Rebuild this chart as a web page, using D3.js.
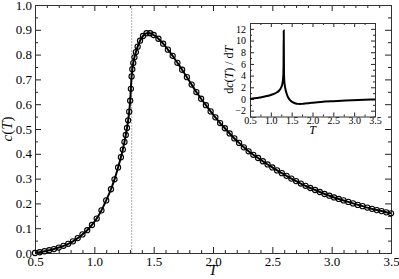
<!DOCTYPE html>
<html><head><meta charset="utf-8">
<script src="https://cdn.jsdelivr.net/npm/d3@7"></script>
<style>body{margin:0;background:#fff} svg text{font-family:"Liberation Serif","Times New Roman",serif;fill:#000}</style>
</head><body><svg id="c" width="399" height="279"></svg>
<script>
// main curve: temperature and specific heat c(T)
const temps = [0.50,0.54,0.58,0.62,0.66,0.70,0.74,0.78,0.82,0.86,0.90,0.94,0.98,1.02,1.06,1.10,1.14,1.17,1.20,
 1.224,1.24,1.254,1.265,1.275,1.285,1.294,1.302,1.308,1.314,1.32,1.328,1.338,1.35,1.365,1.385,1.41,1.44,1.47,
 1.50,1.54,1.58,1.62,1.66,1.70,1.74,1.78,1.82,1.86,1.90,1.94,1.98,2.02,2.06,2.10,2.14,2.18,2.22,2.26,
 2.30,2.34,2.38,2.42,2.46,2.50,2.54,2.58,2.62,2.66,2.70,2.74,2.78,2.82,2.86,2.90,2.94,2.98,3.02,3.06,3.10,
 3.14,3.18,3.22,3.26,3.30,3.34,3.38,3.42,3.46,3.50];
const heat = [0.000,0.003,0.007,0.011,0.016,0.022,0.029,0.037,0.047,0.060,0.075,0.092,0.113,0.139,0.172,0.212,0.257,0.297,0.345,
 0.386,0.417,0.448,0.476,0.504,0.535,0.570,0.614,0.662,0.712,0.741,0.766,0.789,0.810,0.832,0.856,0.875,0.886,0.886,
 0.879,0.864,0.844,0.820,0.795,0.767,0.739,0.709,0.679,0.649,0.622,0.596,0.571,0.547,0.524,0.503,0.482,0.462,0.444,0.426,
 0.410,0.396,0.383,0.370,0.357,0.345,0.333,0.322,0.311,0.300,0.290,0.280,0.271,0.262,0.254,0.246,0.238,0.231,0.224,0.218,0.212,
 0.206,0.200,0.194,0.189,0.183,0.178,0.173,0.169,0.164,0.160];
// inset: derivative dc/dT
const dTemps = [0.50,0.60,0.70,0.80,0.90,1.00,1.05,1.10,1.15,1.20,1.24,1.27,1.29,1.30,1.305,1.31,1.315,1.32,1.33,1.35,1.38,1.42,1.46,
 1.50,1.55,1.60,1.65,1.70,1.75,1.80,1.90,2.00,2.20,2.50,2.80,3.10,3.50];
const dHeat = [0.0,0.12,0.22,0.35,0.50,0.68,0.80,0.95,1.15,1.45,1.85,2.4,3.2,4.2,5.5,11.7,5.0,3.5,2.6,1.7,0.9,0.2,-0.2,
 -0.45,-0.65,-0.78,-0.84,-0.86,-0.84,-0.80,-0.72,-0.65,-0.52,-0.38,-0.26,-0.16,-0.07];
const criticalT = 1.315;
const mainXTicks = [0.5,1.0,1.5,2.0,2.5,3.0,3.5];
const mainYTicks = [0,0.1,0.2,0.3,0.4,0.5,0.6,0.7,0.8,0.9,1.0];
const insetXTicks = [0.5,1.0,1.5,2.0,2.5,3.0,3.5];
const insetYTicks = [-2,0,2,4,6,8,10,12];

const FONT = '"Liberation Serif","Times New Roman",serif';
const svg = d3.select("#c");
svg.append("rect").attr("width",399).attr("height",279).attr("fill","#fff");

const M = {l:35, r:391, t:5, b:253};
const x = d3.scaleLinear().domain([0.5,3.5]).range([M.l,M.r]);
const y = d3.scaleLinear().domain([0,1]).range([M.b,M.t]);

function frameAxes(g, xs, ys, xt, yt, xMinor, yMinor, maj, min, fs, xfmt, yfmt, xpad, ypad){
  const [x0,x1] = xs.range(), [y0,y1] = ys.range();
  const add = (axis, tr) => { const a = g.append("g").attr("transform",tr).call(axis).attr("font-family",FONT);
    a.select(".domain").remove(); a.selectAll("line").attr("stroke","#222"); return a; };
  let a = add(d3.axisBottom(xs).tickValues(xt).tickSize(-maj).tickPadding(xpad).tickFormat(xfmt), `translate(0,${y0})`);
  a.selectAll("text").style("font-size",fs+"px");
  add(d3.axisBottom(xs).tickValues(xMinor).tickSize(-min).tickFormat(""), `translate(0,${y0})`);
  add(d3.axisTop(xs).tickValues(xt).tickSize(-maj).tickFormat(""), `translate(0,${y1})`);
  add(d3.axisTop(xs).tickValues(xMinor).tickSize(-min).tickFormat(""), `translate(0,${y1})`);
  a = add(d3.axisLeft(ys).tickValues(yt).tickSize(-maj).tickPadding(ypad).tickFormat(yfmt), `translate(${x0},0)`);
  a.selectAll("text").style("font-size",fs+"px");
  add(d3.axisLeft(ys).tickValues(yMinor).tickSize(-min).tickFormat(""), `translate(${x0},0)`);
  add(d3.axisRight(ys).tickValues(yt).tickSize(-maj).tickFormat(""), `translate(${x1},0)`);
  add(d3.axisRight(ys).tickValues(yMinor).tickSize(-min).tickFormat(""), `translate(${x1},0)`);
  g.append("rect").attr("x",x0+0.5).attr("y",y1+0.5).attr("width",x1-x0).attr("height",y0-y1)
    .attr("fill","none").attr("stroke","#333").attr("stroke-width",1);
}

const mainG = svg.append("g");
mainG.append("line").attr("x1",x(criticalT)).attr("x2",x(criticalT)).attr("y1",M.t).attr("y2",M.b)
  .attr("stroke","#aaa").attr("stroke-width",1).attr("stroke-dasharray","2,1");

const mxMinor = d3.range(0.6,3.5,0.1).filter(v=>Math.abs(v*2-Math.round(v*2))>1e-6);
const myMinor = d3.range(0.05,1.0,0.1);
frameAxes(mainG, x, y, mainXTicks, mainYTicks, mxMinor, myMinor, 6, 3, 13, d3.format(".1f"), d3.format(".1f"), 4, 3);

const pts = temps.map((t,i)=>[t,heat[i]]);
mainG.append("path").datum(pts).attr("fill","none").attr("stroke","#000").attr("stroke-width",2)
  .attr("d", d3.line().x(d=>x(d[0])).y(d=>y(d[1])).curve(d3.curveMonotoneX));
mainG.selectAll("circle.m").data(pts).join("circle").attr("class","m")
  .attr("cx",d=>x(d[0])).attr("cy",d=>y(d[1])).attr("r",2.6)
  .attr("fill","none").attr("stroke","#000").attr("stroke-width",1.1);

mainG.append("text").attr("x",(M.l+M.r)/2).attr("y",275).attr("text-anchor","middle")
  .style("font-size","15px").style("font-style","italic").text("T");
const yt = mainG.append("text").attr("transform",`translate(12,${(M.t+M.b)/2}) rotate(-90)`).attr("text-anchor","middle").style("font-size","15px");
yt.append("tspan").style("font-style","italic").text("c");
yt.append("tspan").text("(");
yt.append("tspan").style("font-style","italic").text("T");
yt.append("tspan").text(")");

// inset
const I = {l:250, r:375, t:23, b:116.5};
const ix = d3.scaleLinear().domain([0.5,3.5]).range([I.l,I.r]);
const iy = d3.scaleLinear().domain([-3,13]).range([I.b,I.t]);
const inG = svg.append("g");
inG.append("rect").attr("x",I.l).attr("y",I.t).attr("width",I.r-I.l).attr("height",I.b-I.t).attr("fill","#fff");
const ixMinor = d3.range(0.75,3.5,0.5);
const iyMinor = d3.range(-3,13.01,1).filter(v=>v%2!==0);
frameAxes(inG, ix, iy, insetXTicks, insetYTicks, ixMinor, iyMinor, 4, 2, 10, d3.format(".1f"), d3.format("d"), 0, 4);
const dpts = dTemps.map((t,i)=>[t,dHeat[i]]);
inG.append("path").datum(dpts).attr("fill","none").attr("stroke","#000").attr("stroke-width",2)
  .attr("d", d3.line().x(d=>ix(d[0])).y(d=>iy(d[1])).curve(d3.curveMonotoneX));
inG.append("text").attr("x",(I.l+I.r)/2).attr("y",133.5).attr("text-anchor","middle")
  .style("font-size","12px").style("font-style","italic").text("T");
const it = inG.append("text").attr("transform",`translate(233,${(I.t+I.b)/2}) rotate(-90)`).attr("text-anchor","middle").style("font-size","12px");
it.append("tspan").text("d");
it.append("tspan").style("font-style","italic").text("c");
it.append("tspan").text("(");
it.append("tspan").style("font-style","italic").text("T");
it.append("tspan").text(") / d");
it.append("tspan").style("font-style","italic").text("T");
</script></body></html>
